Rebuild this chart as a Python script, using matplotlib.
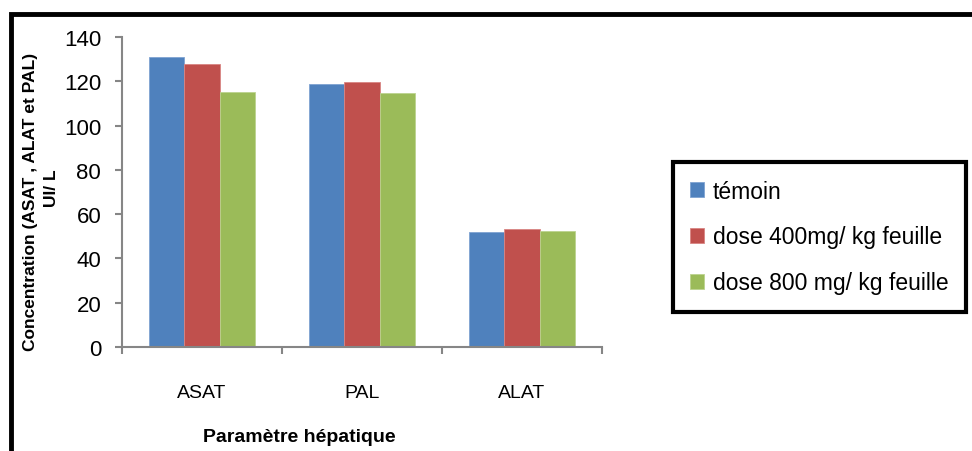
import matplotlib.pyplot as plt
from matplotlib.patches import Rectangle
import numpy as np

plt.rcParams['font.family'] = ['Liberation Sans', 'DejaVu Sans']

categories = ['ASAT', 'PAL', 'ALAT']
series_names = ['témoin', 'dose 400mg/ kg feuille', 'dose 800 mg/ kg feuille']
temoin = [130.8, 118.8, 51.9]
dose400 = [127.8, 119.5, 53.3]
dose800 = [115.3, 114.7, 52.3]
colors = ['#4F81BD', '#C0504D', '#9BBB59']
edges = ['#7FA3D2', '#D98583', '#BCD38F']

W, H = 972, 452
fig = plt.figure(figsize=(W / 100, H / 100), dpi=100)
ax = fig.add_axes([122 / W, (H - 348) / H, 480 / W, 310 / H])

x = np.arange(len(categories))
bw = 0.22
for i, (vals, name) in enumerate(zip([temoin, dose400, dose800], series_names)):
    ax.bar(x + (i - 1) * bw, vals, bw, color=colors[i], edgecolor=edges[i],
           linewidth=0.6, label=name, zorder=2)

ax.set_xlim(-0.5, 2.5)
ax.set_ylim(0, 140)
ax.set_yticks(range(0, 141, 20))
ax.set_xticks(x)
ax.set_xticklabels(categories, fontsize=14)
ax.tick_params(axis='x', which='major', length=0, pad=27)
ax.set_xticks([-0.5, 0.5, 1.5, 2.5], minor=True)
ax.tick_params(axis='x', which='minor', length=5, width=1.5, color='#868686', direction='out')
ax.tick_params(axis='y', length=5, width=1.5, color='#868686', labelsize=16, pad=10)

for s in ['top', 'right']:
    ax.spines[s].set_visible(False)
for s in ['left', 'bottom']:
    ax.spines[s].set_color('#868686')
    ax.spines[s].set_linewidth(1.5)

fig.text(31 / W, (H - 202) / H, 'Concentration (ASAT , ALAT et PAL)', rotation=90,
         fontsize=12.5, fontweight='bold', ha='center', va='center')
fig.text(51 / W, (H - 188) / H, 'UI/ L', rotation=90,
         fontsize=12.5, fontweight='bold', ha='center', va='center')
fig.text(299 / W, (H - 438) / H, 'Paramètre hépatique', fontsize=14,
         fontweight='bold', ha='center', va='center')

# outer chart border (runs off the right and bottom edges)
fig.patches.append(Rectangle((11 / W, -0.1), 1.1, (H - 15) / H + 0.1,
                             transform=fig.transFigure, fill=False,
                             edgecolor='black', linewidth=3.5))

leg = fig.legend(loc='center left', bbox_to_anchor=(673 / W, (H - 238) / H),
                 fontsize=16.5, frameon=True, fancybox=False, framealpha=1,
                 handlelength=0.6, handleheight=0.6, handletextpad=0.4,
                 labelspacing=1.0, borderpad=0.75, borderaxespad=0)
leg.get_frame().set_edgecolor('black')
leg.get_frame().set_linewidth(3)

fig.savefig('out.png', dpi=100)
